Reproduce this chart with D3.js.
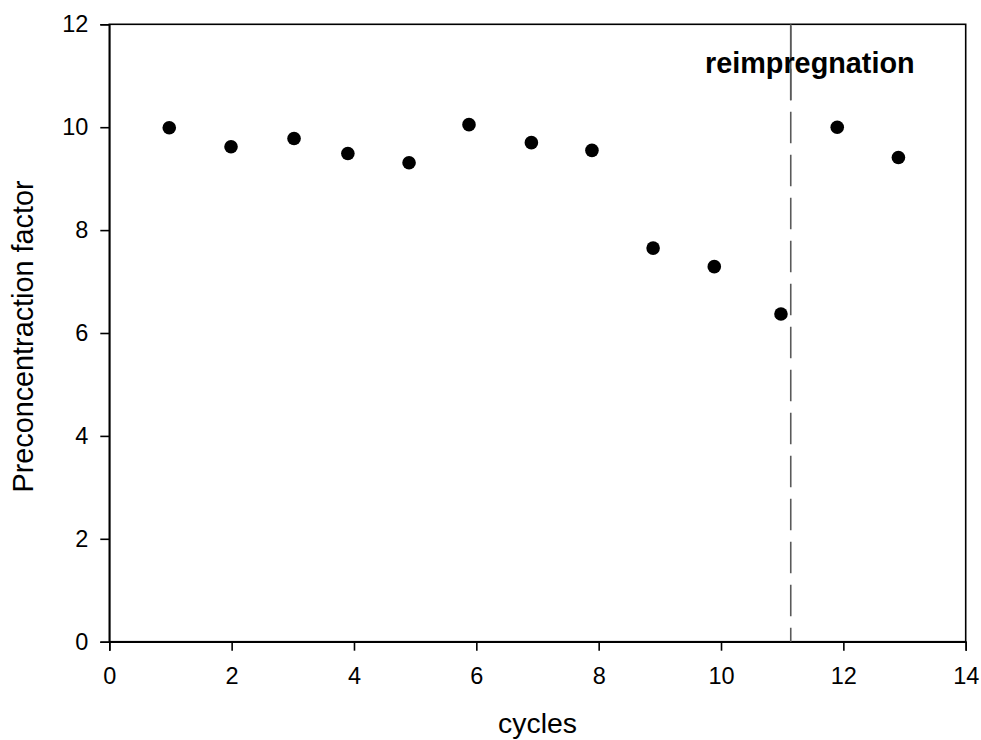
<!DOCTYPE html>
<html>
<head>
<meta charset="utf-8">
<script src="https://cdn.jsdelivr.net/npm/d3@7"></script>
<style>
  html, body { margin: 0; padding: 0; background: #fff; }
  svg { display: block; font-family: "Liberation Sans", Arial, sans-serif; }
</style>
</head>
<body>
<svg id="chart" width="981" height="740"></svg>
<script>
// Preconcentration factor measured over successive cycles
const cycles = [0.98, 1.99, 3.02, 3.90, 4.90, 5.88, 6.90, 7.89, 8.89, 9.89, 10.98, 11.90, 12.90];
const factors = [9.99, 9.62, 9.78, 9.49, 9.31, 10.05, 9.70, 9.55, 7.65, 7.29, 6.37, 10.00, 9.41];
const xTicks = [0, 2, 4, 6, 8, 10, 12, 14];
const yTicks = [0, 2, 4, 6, 8, 10, 12];
const reimpregnationAt = [11.14];
const annotation = ["reimpregnation"];

const svg = d3.select("#chart");
const W = 981, H = 740;
const m = { left: 109.3, right: W - 965.7, top: 24.3, bottom: H - 641.7 };

const x = d3.scaleLinear().domain([0, 14]).range([m.left, W - m.right]);
const y = d3.scaleLinear().domain([0, 12]).range([H - m.bottom, m.top]);

// plot frame
svg.append("rect")
  .attr("x", x(0)).attr("y", y(12))
  .attr("width", x(14) - x(0)).attr("height", y(0) - y(12))
  .attr("fill", "none").attr("stroke", "#000").attr("stroke-width", 1.6);

// axes
const xAxis = svg.append("g")
  .attr("transform", `translate(0,${y(0)})`)
  .call(d3.axisBottom(x).tickValues(xTicks).tickSize(9).tickPadding(16.5).tickFormat(d3.format("d")));
const yAxis = svg.append("g")
  .attr("transform", `translate(${x(0)},0)`)
  .call(d3.axisLeft(y).tickValues(yTicks).tickSize(9).tickPadding(12).tickFormat(d3.format("d")));

[xAxis, yAxis].forEach(g => {
  g.select(".domain").attr("stroke", "#000").attr("stroke-width", 1.6);
  g.selectAll(".tick line").attr("stroke", "#000").attr("stroke-width", 1.6);
  g.selectAll(".tick text")
    .attr("fill", "#000")
    .style("font-family", "'Liberation Sans', Arial, sans-serif")
    .style("font-size", "23.5px");
});

// reimpregnation marker line
const rx = x(reimpregnationAt[0]);
svg.append("line")
  .attr("x1", rx).attr("x2", rx)
  .attr("y1", y(12)).attr("y2", y(0))
  .attr("stroke", "#5a5a5a").attr("stroke-width", 1.6)
  .attr("stroke-dasharray", "31.6,11.4")
  .attr("stroke-dashoffset", 41.6);
svg.append("line")
  .attr("x1", rx).attr("x2", rx)
  .attr("y1", y(12)).attr("y2", 100.3)
  .attr("stroke", "#5a5a5a").attr("stroke-width", 1.6);

svg.append("text")
  .attr("x", 705).attr("y", 73.3)
  .attr("font-weight", "bold")
  .attr("font-size", 28.8)
  .attr("fill", "#000")
  .text(annotation[0]);

// data points
svg.append("g").selectAll("circle")
  .data(cycles.map((c, i) => ({ c, f: factors[i] })))
  .join("circle")
  .attr("cx", d => x(d.c))
  .attr("cy", d => y(d.f))
  .attr("r", 6.8)
  .attr("fill", "#000");

// axis titles
svg.append("text")
  .attr("x", 537.5).attr("y", 733)
  .attr("text-anchor", "middle")
  .attr("font-size", 28.4)
  .attr("fill", "#000")
  .text("cycles");

svg.append("text")
  .attr("transform", "translate(33,336.5) rotate(-90)")
  .attr("text-anchor", "middle")
  .attr("font-size", 28.8)
  .attr("fill", "#000")
  .text("Preconcentraction factor");
</script>
</body>
</html>
